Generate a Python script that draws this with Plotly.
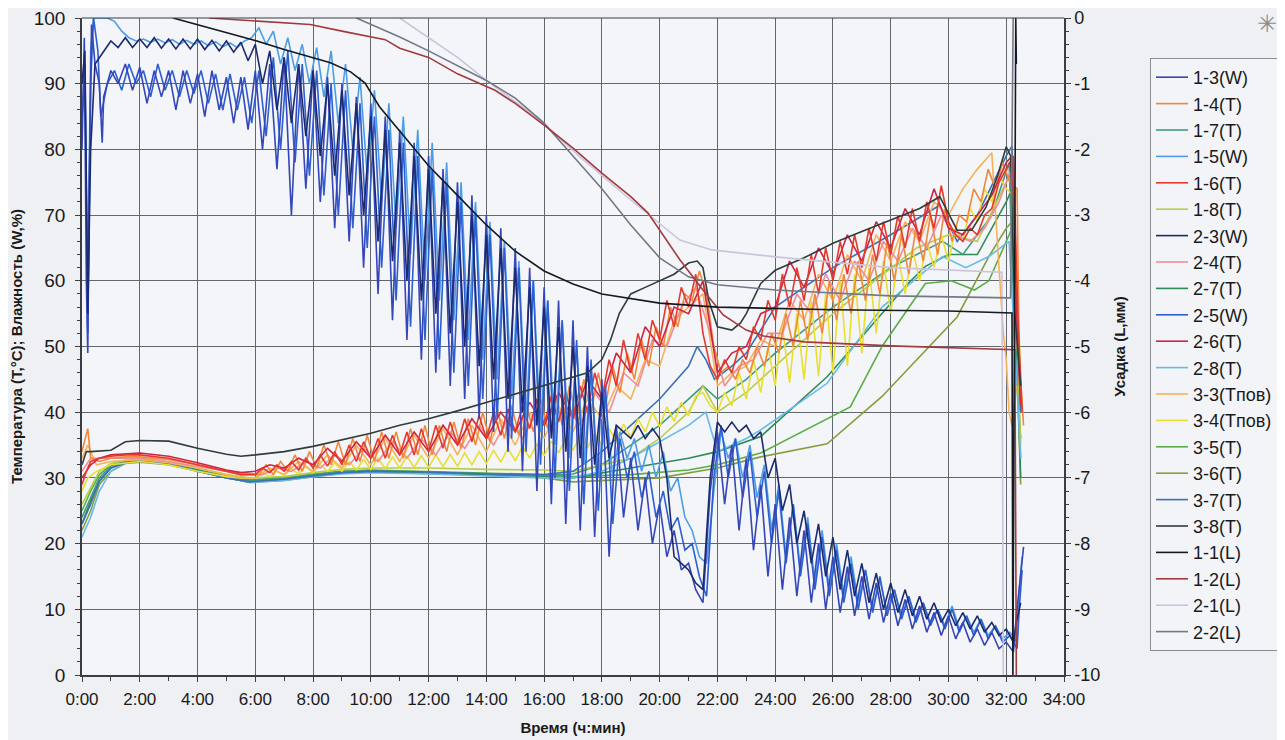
import plotly.graph_objects as go

# ---------------- DATA (time in hours) ----------------
# Humidity series: head (explicit), regular 15-min samples, tail (explicit)
W13_HEAD_T = [0, 0.08, 0.15, 0.2, 0.25, 0.33, 0.45, 0.6, 0.7]
W13_HEAD = [80, 97, 60, 49, 75, 99, 93, 90, 81]
W13 = [88, 92, 90, 93, 89, 92.5, 87, 92, 88, 92, 86, 92,
       87, 91.5, 85, 92, 86, 91, 84, 91, 83, 92, 80, 93,
       77, 94, 70, 93, 74, 92, 72, 91, 68, 90, 66, 88,
       62, 87, 58, 85, 54, 83, 51, 81, 48, 79, 46, 77,
       44, 75, 42, 73, 39, 70, 37, 68, 34, 65, 31, 62,
       28, 59, 26, 57, 23, 54, 22, 50, 21, 45, 18, 38,
       24, 33, 22, 30, 20, 26, 18, 22, 16, 17, 13, 11,
       28, 37, 26, 35, 22, 33, 19, 29, 15, 26, 13, 24,
       12, 22, 11, 20, 10, 18, 9.5, 16.5, 9, 15, 8.5, 14,
       8, 12.5, 7.5, 11.5, 7, 10.5, 6.5, 9.5, 6, 9, 5.5, 8,
       5, 7, 4.5, 6.5, 4, 5, 3.5]
W13_TAIL_T = [32.35, 32.45, 32.6]
W13_TAIL = [9, 13, 19.5]

W25_HEAD_T = [0, 0.1, 0.2, 0.3, 0.4, 0.55, 0.65]
W25_HEAD = [85, 93, 52, 90, 100, 95, 85]
W25 = [90, 92, 89, 93, 90, 92, 88, 93, 89, 92, 88, 92,
       88.5, 92, 87, 91.5, 86, 91.5, 86, 91, 84, 92, 82, 94,
       80, 95, 78, 93, 76, 92, 73, 90, 70, 89, 68, 87,
       65, 85, 62, 83, 57, 81, 53, 79, 51, 77, 48, 75,
       46, 72, 44, 70, 42, 67, 39, 65, 36, 62, 34, 60,
       32, 57, 30, 54, 28, 51, 26, 48, 25, 44, 23, 36,
       30, 34, 27, 31, 24, 28, 22, 24, 19, 20, 15, 12,
       30, 38, 30, 36, 27, 34, 24, 31, 20, 28, 17, 26,
       15, 23, 13, 21, 12, 19, 11, 17, 10, 16, 9.5, 15,
       9, 13, 8.5, 12, 8, 11, 7.5, 10, 7, 10, 6.5, 9,
       6, 8.5, 5.5, 7.5, 5, 6, 4]
W25_TAIL_T = [32.45, 32.55]
W25_TAIL = [10, 16]

W23_HEAD_T = [0, 0.1, 0.2, 0.3, 0.45, 0.6]
W23_HEAD = [90, 95, 55, 80, 93, 94]
W23 = [95, 96.5, 95.5, 97, 95.5, 96.8, 95.5, 97, 95.4, 96.8, 95.3, 96.8,
       95.3, 96.8, 95.2, 96.6, 95, 96.5, 94.8, 96.3, 93.5, 96, 90, 95,
       86, 94, 84, 93, 82, 92, 79, 90, 76, 89, 73, 87,
       70, 85, 66, 83, 63, 81, 60, 79, 57, 77, 55, 75,
       52, 72, 50, 70, 47, 67, 45, 65, 42, 62, 40, 59,
       38, 56, 36, 53, 34, 50, 33, 47, 32, 43, 33, 38,
       37, 36, 38, 36, 37.5, 36, 30, 18, 17, 16, 14, 13,
       30, 38.5, 37, 38.5, 37, 38, 36, 37, 30, 33, 25, 29,
       20, 25, 17, 23, 15, 21, 13, 19, 12, 17, 11, 15.5,
       10, 14, 9.5, 13, 9, 12, 8.5, 11, 8, 10, 7.5, 9.5,
       7, 9, 6.5, 8, 6, 7, 5]
W23_TAIL_T = [32.35, 32.5]
W23_TAIL = [8, 11]

W15_HEAD_T = [0, 0.1, 0.2, 0.3, 0.4, 0.6]
W15_HEAD = [85, 90, 58, 95, 100, 100]
W15 = [100, 99.5, 98, 97, 96.5, 96.8, 96.3, 96.8, 96.2, 96.7, 96, 96.6,
       96, 96.5, 95.8, 96.4, 95.6, 96.2, 95.5, 96.5, 97, 98.5, 96, 98,
       93, 97, 92, 96, 90, 95.5, 88, 95, 84, 93, 80, 91,
       76, 89, 72, 87, 68, 85, 64, 83, 60, 81, 57, 78,
       54, 75, 51, 72, 48, 69, 45, 66, 42, 63, 39, 60,
       37, 57, 35, 54, 33, 50, 32, 46, 30, 42, 30, 37,
       33, 36, 31, 35, 30, 34, 28, 30, 24, 22, 18, 17,
       28, 37, 33, 36, 30, 35, 27, 32, 22, 29, 18, 26,
       16, 24, 14, 22, 13, 20, 12, 18, 11, 16, 10, 14.5,
       9.5, 13, 9, 12, 8.5, 11, 8, 10, 7.5, 10.5, 7, 9,
       6.5, 8.5, 6, 7.5, 5.5, 6.5, 5]
W15_TAIL_T = [32.45, 32.55]
W15_TAIL = [13, 18]

# Oscillating temperatures
T16_HEAD_T = [0, 0.15, 0.3, 0.6, 1.0, 1.5, 2.0, 3.0, 4.0, 5.0, 5.5]
T16_HEAD = [29, 31, 32.5, 33, 33.3, 33.5, 33.5, 33, 32, 31, 30.5]
T16 = [30.5, 31.5, 30.8, 32, 31, 32.5, 31.2, 33, 31.5, 33.5, 31.8, 34,
       32, 35, 32.5, 35.5, 33, 36, 33, 36.5, 33.5, 37, 33.5, 37.5,
       34, 38, 34.5, 38.5, 35, 39, 35.5, 39.5, 36, 40, 36.5, 40.5,
       37, 41, 37.5, 42, 38, 42.5, 38.5, 43, 39, 44, 40, 46,
       42, 48, 44, 51, 46, 52, 48, 54, 51, 57, 53, 59,
       56, 61, 52, 47, 45, 48, 46, 50, 48, 53, 51, 57,
       54, 61, 56, 62, 57, 64, 58, 65, 60, 66, 61, 67,
       62, 68, 63, 69, 64, 70, 65, 71, 66, 72, 68, 74.5,
       69, 67, 66, 68, 67, 70, 71, 75, 77, 79]
T16_TAIL_T = [32.4, 32.55]
T16_TAIL = [55, 40]

T14_HEAD_T = [0, 0.1, 0.2, 0.3, 0.6, 1.0, 1.5, 2.0, 3.0, 4.0, 5.0, 5.5]
T14_HEAD = [34, 36, 37.5, 33, 32.5, 33, 33.2, 33.2, 32.8, 32, 31, 30.8]
T14 = [30.5, 32, 30.5, 32.5, 31, 33.5, 31, 34, 31.5, 35, 32, 35.5,
       32, 36, 32.5, 36.5, 32.5, 37, 33, 37, 33, 37.5, 33.5, 38,
       33.5, 38, 34, 38.5, 34.5, 39, 35, 40, 35.5, 40.5, 36, 41,
       36.5, 41.5, 37, 42, 37.5, 43, 38, 44, 39, 45, 40, 46,
       41, 47, 43, 49, 45, 51, 47, 53, 50, 56, 53, 58,
       57, 61.5, 58, 50, 46, 47, 45, 48, 46, 50, 47, 52,
       49, 55, 50, 57, 51, 58, 52, 60, 54, 61, 55, 63,
       57, 64, 58, 66, 60, 67, 61, 68, 63, 70, 64, 71,
       66, 70, 69, 74, 72, 77, 74, 78, 75, 74]
T14_TAIL_T = [32.45, 32.6]
T14_TAIL = [48, 38]

T34_HEAD_T = [0, 0.2, 0.5, 1.0, 2.0, 3.0, 4.0, 5.0, 5.5]
T34_HEAD = [28, 30, 31, 32, 32.5, 32, 31, 30.2, 30]
T34 = [30, 30.8, 30.2, 31, 30.4, 31.4, 30.6, 31.8, 30.8, 32, 31, 32.3,
       31, 32.5, 31.2, 32.8, 31.3, 33, 31.4, 33.2, 31.5, 33.3, 31.6, 33.4,
       31.6, 33.5, 31.7, 33.6, 31.8, 33.8, 32, 34, 32.2, 34.2, 32.4, 34.5,
       32.6, 34.8, 33, 35.2, 33.4, 35.6, 33.8, 36, 34.2, 36.4, 34.6, 36.8,
       35, 37.5, 35.6, 38.2, 36.2, 39, 37, 40, 37.8, 40.8, 38.6, 41.5,
       39.5, 42.5, 43, 41, 40, 43, 41, 46, 42, 48, 43, 50,
       44, 53, 44.5, 55, 45, 57, 45.5, 58, 46, 60, 47, 61,
       49, 62, 52, 63, 55, 64, 58, 65, 60, 66, 62, 67,
       63, 68, 66, 71, 69, 74, 72, 76, 74, 73]
T34_TAIL_T = [32.4, 32.55]
T34_TAIL = [55, 40]

T26_HEAD_T = [0, 0.3, 0.6, 1.0, 2.0, 3.0, 4.0, 5.0, 5.5]
T26_HEAD = [30, 32, 33, 33.5, 33.8, 33.3, 32.3, 31.2, 30.8]
T26 = [31, 32, 31.5, 33, 32, 34.5,
       32.5, 35.5, 33, 36.5, 33.5, 37,
       34, 38, 35, 39, 36, 40,
       37, 41.5, 38, 43, 39, 45,
       42, 49, 46, 53, 50, 56,
       55, 60, 46, 49, 50, 55,
       56, 63, 59, 65, 61, 67,
       63, 69, 65, 71, 67, 74,
       68, 67, 70, 73, 78]
T26_TAIL_T = [32.2, 32.4, 32.5]
T26_TAIL = [79, 50, 41]

T24_HEAD_T = [0, 0.3, 0.6, 1.0, 2.0, 3.0, 4.0, 5.0, 5.5]
T24_HEAD = [31, 33, 33, 33, 33, 32.5, 31.8, 31, 30.5]
T24 = [30.5, 31.5, 31, 32.5, 31.5, 33.5,
       32, 34.5, 32.5, 35.5, 33, 36,
       33.5, 37, 34.5, 38, 35, 39,
       36, 40, 37, 41, 38, 43,
       40, 46, 44, 51, 50, 56,
       59, 52, 44, 47, 48, 52,
       52, 58, 55, 61, 57, 63,
       60, 66, 63, 68, 65, 70,
       67, 66, 68, 72, 78]
T24_TAIL_T = [32.35, 32.5]
T24_TAIL = [52, 43]

T33_HEAD_T = [0, 0.2, 0.5, 1.0, 2.0, 3.0, 4.0, 5.0, 5.5]
T33_HEAD = [33, 35, 32, 32.5, 32.8, 32.3, 31.5, 30.5, 30]
T33 = [30, 31.5, 30.5, 32.5, 31, 33.5,
       31.5, 35, 32, 36, 32.5, 36.5,
       33, 37.5, 33.5, 38, 34, 39,
       35, 40, 36, 41, 37, 42,
       39, 44, 42, 48, 47, 54,
       56, 58, 44, 46, 47, 51,
       50, 57, 54, 61, 57, 64,
       60, 67, 63, 69, 66, 72,
       70, 74, 77, 79.5]
T33_TAIL_T = [31.75, 31.9, 32.0, 32.1, 32.2, 32.35]
T33_TAIL = [62, 52, 48, 40, 38, 44]

# Smooth temperatures
T17_T = [0, 0.3, 0.6, 1.0, 1.5, 2.0, 3.0, 4.0, 5.0, 5.8, 7.0, 8.0, 9.0, 10.0, 12.0, 14.0, 16.0, 17.0,
         18.0, 19.0, 20.0, 21.0, 21.5, 22.0, 23.0, 24.0, 26.0, 28.0, 29.8, 30.5, 31.5, 32.1, 32.3, 32.5]
T17 = [24, 27, 30, 31.8, 32.5, 32.6, 32.2, 31.2, 30.2, 29.6, 29.9, 30.5, 31, 31.1, 30.9, 30.6, 30.4, 30.6,
       32, 35, 38, 42, 44, 42, 45, 49, 56, 62, 66, 64, 70, 78, 50, 36]

T27_T = [0, 0.3, 0.6, 1.0, 1.5, 2.0, 3.0, 4.0, 5.0, 5.8, 7.0, 8.0, 9.0, 10.0, 12.0, 14.0, 16.0, 17.0,
         19.0, 21.0, 22.0, 23.5, 25.8, 28.6, 29.2, 30.0, 31.0, 32.0, 32.2, 32.5]
T27 = [23, 26.5, 29.5, 31.5, 32.3, 32.5, 32.1, 31, 30, 29.4, 29.7, 30.3, 30.8, 31, 30.8, 30.5, 30.2, 30,
       31.5, 33, 34, 36.3, 45.4, 59.6, 62.2, 64, 64, 72, 74, 30]

T35_T = [0, 0.3, 0.6, 1.0, 1.5, 2.0, 3.0, 4.0, 5.0, 5.8, 7.0, 8.0, 9.0, 10.0, 12.0, 14.0, 16.0, 17.0,
         19.0, 21.0, 22.0, 23.5, 26.6, 27.7, 29.2, 30.1, 30.9, 31.4, 32.0, 32.2, 32.5]
T35 = [25, 28, 30.5, 32, 32.6, 32.7, 32.3, 31.3, 30.3, 29.7, 30, 30.6, 31, 31.2, 31, 30.8, 30.5, 30.2,
       30.5, 31.2, 32, 33.8, 40.8, 50, 59.6, 60, 58.6, 60, 66, 68, 33]

T36_T = [0, 0.3, 0.6, 1.0, 1.5, 2.0, 3.0, 4.0, 5.0, 5.8, 7.0, 8.0, 9.0, 10.0, 12.0, 14.0, 16.0, 17.0,
         20.0, 22.0, 23.5, 25.8, 27.7, 30.3, 31.4, 32.0, 32.2, 32.5]
T36 = [22, 25, 29, 31, 32.2, 32.4, 32, 31, 30, 29.3, 29.6, 30.2, 30.7, 30.9, 30.7, 30.4, 30, 29.4,
       30, 31.5, 33.2, 35.2, 42.4, 54.5, 63.7, 68, 69, 29]

T18_T = [0, 0.3, 0.6, 1.0, 1.5, 2.0, 3.0, 4.0, 5.0, 5.8, 7.0, 8.0, 9.0, 10.0, 12.0, 14.0, 16.0, 17.0,
         19.0, 20.0, 21.0, 21.5, 22.0, 23.0, 23.5, 26.0, 28.9, 30.0, 31.0, 32.0, 32.2, 32.5]
T18 = [26, 28.5, 31, 32.2, 32.7, 32.8, 32.4, 31.5, 30.5, 30, 30.2, 30.8, 31.3, 31.5, 31.5, 31.3, 31.2, 31,
       33, 36, 40, 44, 40, 43, 45, 55, 65, 67, 66, 75, 76, 35]

T28_T = [0, 0.3, 0.6, 1.0, 1.5, 2.0, 3.0, 4.0, 5.0, 5.8, 7.0, 8.0, 9.0, 10.0, 12.0, 14.0, 16.0, 17.0,
         18.0, 19.0, 20.0, 21.0, 21.6, 22.0, 23.0, 23.5, 25.8, 27.7, 29.8, 30.6, 31.4, 32.1, 32.3, 32.5]
T28 = [21, 24, 28, 31, 32.3, 32.5, 32, 31, 30, 29.3, 29.6, 30.2, 30.6, 30.8, 30.6, 30.3, 30, 30,
       31, 33, 35.5, 38, 40, 34, 36, 37.3, 44.4, 56, 63.7, 62, 63.7, 66, 50, 33]

T37_T = [0, 0.3, 0.6, 1.0, 1.5, 2.0, 3.0, 4.0, 5.0, 5.8, 7.0, 8.0, 9.0, 10.0, 12.0, 14.0, 16.0, 17.0,
         18.0, 19.0, 20.0, 21.0, 21.3, 21.6, 21.9, 22.5, 23.0, 24.0, 26.0, 28.0, 29.7, 30.3, 31.0,
         32.0, 32.2, 32.5]
T37 = [23, 26, 29.5, 31.5, 32.3, 32.5, 32.1, 31, 30, 29.4, 29.8, 30.3, 30.8, 31, 30.9, 30.6, 30.5, 31,
       34, 38, 42, 47, 50, 48, 45, 47, 49, 56, 62, 67, 71.5, 66, 70,
       79, 80.5, 40]

T38_T = [0, 0.15, 0.3, 1.0, 1.5, 2.0, 3.0, 4.0, 5.0, 5.5, 6.0, 7.0, 8.0, 9.0, 10.0, 11.0, 12.0, 13.0,
         14.0, 15.0, 16.0, 17.0, 17.5, 18.0, 18.3, 18.6, 19.0, 19.5, 20.0, 20.5, 21.0, 21.3, 21.5,
         21.7, 22.0, 22.5, 22.8, 23.0, 23.5, 24.0, 25.0, 26.0, 27.0, 28.0, 29.0, 29.7, 30.0, 30.3,
         30.8, 31.3, 31.7, 32.0, 32.15, 32.3, 32.5]
T38 = [32, 34, 34, 34.2, 35.5, 35.7, 35.6, 34.5, 33.6, 33.3, 33.5, 34, 34.8, 35.8, 36.8, 38, 39, 40.2,
       41.5, 42.7, 44, 45.4, 46, 48, 51, 55, 58, 59, 60, 61, 62.7, 63, 62,
       57, 53, 52.5, 53.6, 55, 59.6, 61.6, 63.5, 65.7, 67.5, 69.3, 71, 72.8, 70.3, 67.7,
       67.7, 71.2, 76, 80.4, 79, 55, 44]

# Shrinkage (right axis, mm)
L11_T = [3.15, 4.0, 5.0, 5.9, 7.0, 8.6, 9.3, 9.8, 10.3, 11.0, 12.0, 13.0, 14.0, 15.0, 16.0, 17.0, 18.0,
         20.0, 22.0, 26.0, 30.0, 32.2, 32.23, 32.33, 32.35]
L11 = [0, -0.1, -0.22, -0.33, -0.48, -0.68, -0.82, -0.99, -1.35, -1.72, -2.25, -2.7, -3.15, -3.55,
       -3.85, -4.05, -4.2, -4.34, -4.4, -4.44, -4.46, -4.49, -10, 0, -0.7]

L12_T = [4.4, 6.0, 7.9, 9.0, 10.5, 11.0, 12.0, 13.0, 14.3, 15.0, 16.0, 17.0, 18.0, 19.0, 19.6, 20.7,
         21.5, 22.2, 23.0, 23.6, 25.0, 28.0, 32.3, 32.35]
L12 = [0, -0.05, -0.1, -0.2, -0.33, -0.46, -0.6, -0.85, -1.1, -1.3, -1.63, -1.98, -2.36, -2.72, -2.97,
       -3.68, -4.14, -4.52, -4.75, -4.84, -4.93, -4.99, -5.05, -10]

L21_T = [11.0, 12.0, 13.0, 14.0, 15.0, 15.85, 17.2, 19.0, 20.7, 21.8, 24.1, 28.0, 31.85, 31.9]
L21 = [0, -0.3, -0.6, -0.95, -1.27, -1.55, -2.1, -2.77, -3.38, -3.53, -3.64, -3.8, -3.87, -10]

L22_T = [9.5, 10.3, 11.0, 12.0, 13.0, 14.0, 15.0, 16.0, 17.0, 18.0, 19.0, 20.0, 21.0, 22.0, 24.0,
         28.0, 32.15, 32.2, 32.24]
L22 = [0, -0.15, -0.29, -0.5, -0.72, -0.95, -1.22, -1.6, -2.1, -2.6, -3.15, -3.65, -3.94, -4.06,
       -4.14, -4.23, -4.26, -2.3, 0]

X_TICKS = list(range(0, 35, 2))
X_LABELS = [f"{h}:00" for h in X_TICKS]
Y2_TICKS = list(range(-10, 1))
Y2_LABELS = [str(v) for v in Y2_TICKS]


def seq(head_t, head_v, start, step, vals, tail_t, tail_v):
    t = list(head_t) + [start + step * i for i in range(len(vals))] + list(tail_t)
    v = list(head_v) + list(vals) + list(tail_v)
    return t, v


series = {}
series["1-3(W)"] = ("#3547b8", seq(W13_HEAD_T, W13_HEAD, 0.75, 0.25, W13, W13_TAIL_T, W13_TAIL), "y")
series["1-4(T)"] = ("#f0883e", seq(T14_HEAD_T, T14_HEAD, 6.125, 0.25, T14, T14_TAIL_T, T14_TAIL), "y")
series["1-7(T)"] = ("#3e9a80", (T17_T, T17), "y")
series["1-5(W)"] = ("#4d9de6", seq(W15_HEAD_T, W15_HEAD, 0.875, 0.25, W15, W15_TAIL_T, W15_TAIL), "y")
series["1-6(T)"] = ("#e23a2c", seq(T16_HEAD_T, T16_HEAD, 6.0, 0.25, T16, T16_TAIL_T, T16_TAIL), "y")
series["1-8(T)"] = ("#b8cc45", (T18_T, T18), "y")
series["2-3(W)"] = ("#1c2a6e", seq(W23_HEAD_T, W23_HEAD, 0.75, 0.25, W23, W23_TAIL_T, W23_TAIL), "y")
series["2-4(T)"] = ("#f08b9a", seq(T24_HEAD_T, T24_HEAD, 6.25, 0.5, T24, T24_TAIL_T, T24_TAIL), "y")
series["2-7(T)"] = ("#2e8b57", (T27_T, T27), "y")
series["2-5(W)"] = ("#2d5fd0", seq(W25_HEAD_T, W25_HEAD, 0.875, 0.25, W25, W25_TAIL_T, W25_TAIL), "y")
series["2-6(T)"] = ("#cf2342", seq(T26_HEAD_T, T26_HEAD, 6.0, 0.5, T26, T26_TAIL_T, T26_TAIL), "y")
series["2-8(T)"] = ("#66bbea", (T28_T, T28), "y")
series["3-3(Tпов)"] = ("#f5b259", seq(T33_HEAD_T, T33_HEAD, 6.0, 0.5, T33, T33_TAIL_T, T33_TAIL), "y")
series["3-4(Tпов)"] = ("#e9df30", seq(T34_HEAD_T, T34_HEAD, 6.0, 0.25, T34, T34_TAIL_T, T34_TAIL), "y")
series["3-5(T)"] = ("#5aae47", (T35_T, T35), "y")
series["3-6(T)"] = ("#849e3f", (T36_T, T36), "y")
series["3-7(T)"] = ("#3c6fb4", (T37_T, T37), "y")
series["3-8(T)"] = ("#2f3d3a", (T38_T, T38), "y")
series["1-1(L)"] = ("#141a22", (L11_T, L11), "y2")
series["1-2(L)"] = ("#a23a3e", (L12_T, L12), "y2")
series["2-1(L)"] = ("#cbc4dc", (L21_T, L21), "y2")
series["2-2(L)"] = ("#717888", (L22_T, L22), "y2")

legend_order = list(series.keys())
draw_order = ["3-6(T)", "3-5(T)", "2-7(T)", "1-7(T)", "1-8(T)", "2-8(T)", "3-7(T)",
              "3-4(Tпов)", "3-3(Tпов)", "2-4(T)", "1-4(T)", "2-6(T)", "1-6(T)",
              "1-5(W)", "2-5(W)", "1-3(W)", "2-3(W)", "3-8(T)",
              "2-1(L)", "2-2(L)", "1-2(L)", "1-1(L)"]

fig = go.Figure()
for name in draw_order:
    color, (t, v), ax = series[name]
    fig.add_trace(go.Scatter(
        x=t, y=v, name=name, mode="lines", yaxis=ax,
        line=dict(color=color, width=1.6),
        legendrank=legend_order.index(name) + 1,
        legendgroup=name,
    ))

FONT = "Arial, Liberation Sans, sans-serif"
GRID = "#62666d"
AX = "#3a3d42"
W_FIG, H_FIG = 1277, 732   # page body adds an 8px margin
M_L, M_R, M_T, M_B = 74, 221, 10, 65
PLOT_W, PLOT_H = W_FIG - M_L - M_R, H_FIG - M_T - M_B

fig.update_layout(
    width=W_FIG, height=H_FIG,
    margin=dict(l=M_L, r=M_R, t=M_T, b=M_B, autoexpand=False),
    paper_bgcolor="#eef0f4", plot_bgcolor="#f4f5f8",
    font=dict(family=FONT, size=17, color="#1a1a1a"),
    showlegend=True,
    legend=dict(
        xref="container", yref="container",
        x=1142 / W_FIG, y=1 - 50 / H_FIG, xanchor="left", yanchor="top",
        bgcolor="#f3f4f7", bordercolor="#8a8d92", borderwidth=1,
        font=dict(family=FONT, size=18, color="#1a1a1a"),
        tracegroupgap=0, traceorder="grouped", itemwidth=32,
        maxheight=660,
    ),
    xaxis=dict(
        range=[0, 34], tickvals=X_TICKS, ticktext=X_LABELS,
        showgrid=True, gridcolor=GRID, gridwidth=1,
        showline=True, linecolor=AX, linewidth=1.5,
        ticks="outside", ticklen=5, tickcolor=AX,
        minor=dict(dtick=1, ticks="outside", ticklen=4, tickcolor=AX, showgrid=False),
        zeroline=False, ticklabelstandoff=3, automargin=False, ticklabeloverflow="allow",
        tickfont=dict(size=17),
        title=dict(text="<b>Время (ч:мин)</b>", font=dict(size=15), standoff=14),
    ),
    yaxis=dict(
        range=[0, 100], dtick=10,
        showgrid=True, gridcolor=GRID, gridwidth=1,
        showline=True, linecolor=AX, linewidth=1.5,
        ticks="outside", ticklen=5, tickcolor=AX,
        minor=dict(dtick=2, ticks="outside", ticklen=3, tickcolor=AX, showgrid=False),
        zeroline=False, ticklabelstandoff=6, automargin=False, ticklabeloverflow="allow",
        tickfont=dict(size=19),
        title=dict(text="<b>Температура (T,°C); Влажность (W,%)</b>", font=dict(size=15), standoff=17),
    ),
    yaxis2=dict(
        range=[-10, 0], tickvals=Y2_TICKS, ticktext=Y2_LABELS, overlaying="y", side="right",
        showgrid=False, showline=True, linecolor=AX, linewidth=1.5,
        ticks="outside", ticklen=5, tickcolor=AX,
        minor=dict(dtick=0.2, ticks="outside", ticklen=3, tickcolor=AX),
        zeroline=False, automargin=False, ticklabeloverflow="allow",
        tickfont=dict(size=18),
        title=dict(text="<b>Усадка (L,мм)</b>", font=dict(size=15), standoff=15),
    ),
)

fig.add_shape(type="line", xref="paper", yref="paper", x0=0, x1=1, y0=1, y1=1,
              line=dict(color=AX, width=1.2))

# star mark in the top-right corner (figure px 1259, 0)
fig.add_annotation(text="✳", xref="paper", yref="paper",
                   x=(1259 - M_L) / PLOT_W, xanchor="center",
                   y=(H_FIG - M_B - 0) / PLOT_H, yanchor="top",
                   showarrow=False, font=dict(size=24, color="#8c8c8c", family="DejaVu Sans"))

fig.write_html("out.html")
